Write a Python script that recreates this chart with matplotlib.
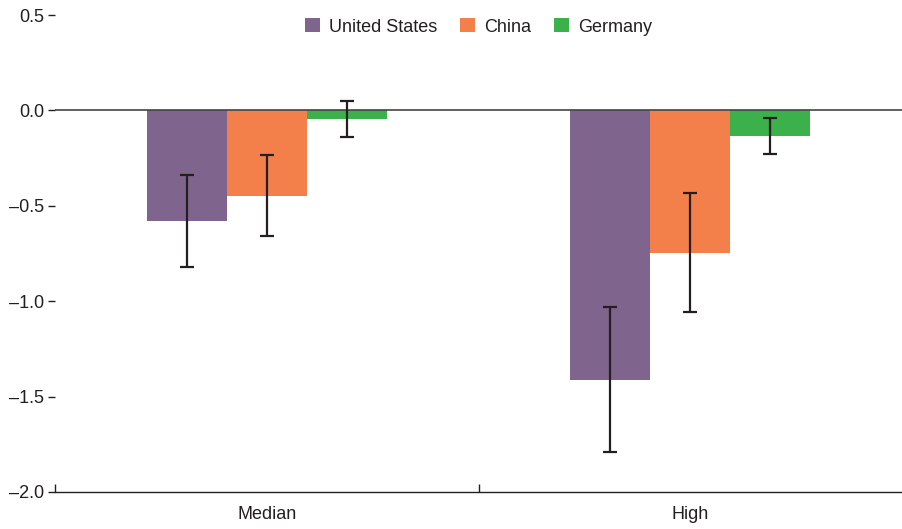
import matplotlib
matplotlib.use("Agg")
import matplotlib.pyplot as plt
import numpy as np
from matplotlib.ticker import FixedLocator, FuncFormatter

categories = ["Median", "High"]
series = ["United States", "China", "Germany"]
values = {
    "United States": [-0.578, -1.411],
    "China": [-0.447, -0.745],
    "Germany": [-0.045, -0.135],
}
errors = {
    "United States": [0.241, 0.381],
    "China": [0.211, 0.311],
    "Germany": [0.096, 0.095],
}
colors = {"United States": "#7F658D", "China": "#F3804A", "Germany": "#3CB04A"}
yticks = [0.5, 0.0, -0.5, -1.0, -1.5, -2.0]

plt.rcParams["font.family"] = ["Liberation Sans Narrow", "Liberation Sans", "DejaVu Sans"]

fig = plt.figure(figsize=(9.02, 5.29), dpi=100)
ax = fig.add_axes([0.061, 0.070, 0.939, 0.9016])

x = np.arange(len(categories))
width = 0.189
for i, s in enumerate(series):
    pos = x + (i - 1) * width
    ax.bar(pos, values[s], width=width, color=colors[s], label=s, zorder=2)
    ax.errorbar(pos, values[s], yerr=errors[s], fmt="none", ecolor="#231F20",
                elinewidth=1.6, capsize=4.8, capthick=1.6, zorder=4)

ax.axhline(0, color="#444444", lw=1.2, zorder=3)

ax.set_xlim(-0.5, 1.5)
ax.set_ylim(-2.0, 0.5)

for side in ["top", "right", "left"]:
    ax.spines[side].set_visible(False)
ax.spines["bottom"].set_color("#231F20")
ax.spines["bottom"].set_linewidth(1.0)

ax.yaxis.set_major_locator(FixedLocator(yticks))
ax.yaxis.set_major_formatter(FuncFormatter(lambda v, p: f"{v:.1f}".replace("-", "\u2013")))
ax.tick_params(axis="y", length=5, width=1.0, color="#231F20", pad=3,
               labelsize=13, labelcolor="#231F20")

ax.set_xticks(x)
ax.set_xticklabels(categories)
ax.tick_params(axis="x", length=0, pad=10, labelsize=13, labelcolor="#231F20")
ax.set_xticks([-0.5, 0.5], minor=True)
ax.tick_params(axis="x", which="minor", direction="in", length=6, width=1.0, color="#231F20")

leg = ax.legend(loc="upper center", bbox_to_anchor=(0.5, 1.027), ncol=3, frameon=False,
                fontsize=13, handlelength=0.8, handleheight=0.8, handletextpad=0.5,
                columnspacing=1.3)
for t in leg.get_texts():
    t.set_color("#231F20")

fig.savefig("out.png", dpi=100)
